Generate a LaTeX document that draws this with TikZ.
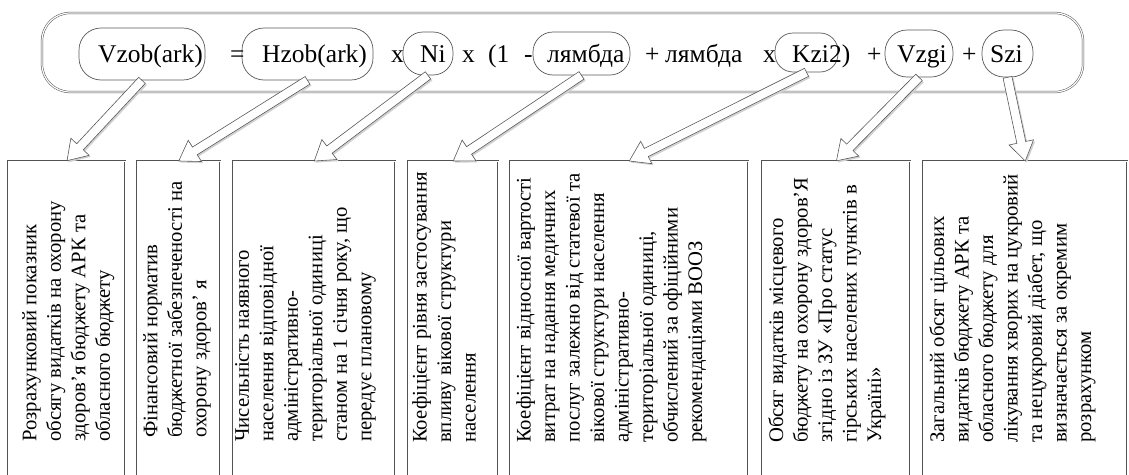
\documentclass[tikz,border=0pt]{standalone}
\usepackage{fontspec}
\setmainfont{Liberation Serif}
\usetikzlibrary{calc}
\tikzset{
  frame/.style={draw=gray!65!black, line width=0.5pt, double=white, double distance=1.2pt, fill=white},
  term/.style={draw=gray!70!black, line width=0.7pt, inner sep=0pt},
  tok/.style={anchor=base west, inner sep=0pt, font=\fontsize{25.5}{30}\selectfont},
  descbox/.style={draw=gray!65!black, line width=0.5pt, double=white, double distance=1.2pt, fill=white, anchor=north west, minimum height=340pt},
  desc/.style={rotate=90, anchor=north west, align=left, inner sep=0pt, font=\fontsize{20.7}{24.5}\selectfont},
  arrshadow/.style={fill=black!18},
  arrbody/.style={fill=white, draw=gray!70!black, line width=0.6pt, line join=miter},
}
\newcommand\arrpoly{(0,-4.5) -- (\n2-19,-4.5) -- (\n2-19,-12.5) -- (\n2,0) -- (\n2-19,12.5) -- (\n2-19,4.5) -- (0,4.5) -- cycle}
\newcommand\blockarr[2]{%
  \path[arrshadow] let \p1=(#1), \p2=(#2), \n1={atan2(\y2-\y1,\x2-\x1)}, \n2={veclen(\x2-\x1,\y2-\y1)} in
    [shift={(\p1)}, xshift=1.6pt, yshift=-1.6pt, rotate=\n1] \arrpoly;
  \path[arrbody] let \p1=(#1), \p2=(#2), \n1={atan2(\y2-\y1,\x2-\x1)}, \n2={veclen(\x2-\x1,\y2-\y1)} in
    [shift={(\p1)}, rotate=\n1] \arrpoly;
}
\begin{document}
\begin{tikzpicture}[x=1pt, y=-1pt]
\useasboundingbox (0,0) rectangle (1129,474);
\fill[white] (0,0) rectangle (1129,474);
\clip (0,0) rectangle (1129,474);

% formula frame
\node[frame, rounded corners=28pt, minimum width=1041pt, minimum height=79pt] (fr) at (562.5,52.5) {};

% term shapes
\node[term, rounded corners=22pt, minimum width=126pt, minimum height=52pt] (e1) at (142,54) {};
\node[term, rounded corners=22pt, minimum width=131pt, minimum height=52pt] (e2) at (307.5,54) {};
\node[term, rounded corners=20pt, minimum width=50pt, minimum height=43pt] (e3) at (428,53.5) {};
\node[term, rounded corners=20pt, minimum width=97pt, minimum height=43pt] (e4) at (581.5,53.5) {};
\node[term, rounded corners=18pt, minimum width=63pt, minimum height=39pt] (e5) at (806.5,52.5) {};
\node[term, rounded corners=22pt, minimum width=68pt, minimum height=47pt] (e6) at (919,53.5) {};
\node[term, rounded corners=22pt, minimum width=51pt, minimum height=47pt] (e7) at (1007.5,53.5) {};

% formula text
\node[tok] (f1) at (98,62) {Vzob(ark)};
\node[tok] (f2) at (230,62) {=};
\node[tok] (f3) at (262,62) {Hzob(ark)};
\node[tok] (f4) at (391,62) {x};
\node[tok] (f5) at (420,62) {Ni};
\node[tok] (f6) at (462,62) {x};
\node[tok] (f7) at (488,62) {(1};
\node[tok] (f8) at (524,62) {-};
\node[tok] (f9) at (547,62) {лямбда};
\node[tok] (f10) at (645,62) {+};
\node[tok] (f11) at (665,62) {лямбда};
\node[tok] (f12) at (763,62) {x};
\node[tok] (f13) at (792,62) {Kzi2)};
\node[tok] (f14) at (867,62) {+};
\node[tok] (f15) at (897,62) {Vzgi};
\node[tok] (f16) at (962,62) {+};
\node[tok] (f17) at (990,62) {Szi};

% description boxes
\node[descbox, minimum width=117pt] (b1) at (8,161) {};
\node[descbox, minimum width=83pt] (b2) at (137,161) {};
\node[descbox, minimum width=162pt] (b3) at (233,161) {};
\node[descbox, minimum width=90pt] (b4) at (408,161) {};
\node[descbox, minimum width=238pt] (b5) at (510,161) {};
\node[descbox, minimum width=148pt] (b6) at (762,161) {};
\node[descbox, minimum width=204pt] (b7) at (923,161) {};

\node[desc] (t1) at (22,442) {Розрахунковий показник\\обсягу видатків на охорону\\здоров'я бюджету АРК та\\обласного бюджету};
\node[desc] (t2) at (143,438) {Фінансовий норматив\\бюджетної забезпеченості на\\охорону здоров' я};
\node[desc] (t3) at (235,442) {Чисельність наявного\\населення відповідної\\адміністративно-\\територіальної одиниці\\станом на 1 січня року, що\\передує плановому};
\node[desc] (t4) at (412,443) {Коефіцієнт рівня застосування\\впливу вікової структури\\населення};
\node[desc] (t5) at (516,443) {Коефіцієнт відносної вартості\\витрат на надання медичних\\послуг залежно від статевої та\\вікової структури населення\\адміністративно-\\територіальної одиниці,\\обчислений за офіційними\\рекомендаціями ВООЗ};
\node[desc] (t6) at (768,443) {Обсяг видатків місцевого\\бюджету на охорону здоров'Я\\згідно із ЗУ «Про статус\\гірських населених пунктів в\\Україні»};
\node[desc] (t7) at (929,443) {Загальний обсяг цільових\\видатків бюджету АРК та\\обласного бюджету для\\лікування хворих на цукровий\\та нецукровий діабет, що\\визначається за окремим\\розрахунком};

% block arrows
\blockarr{e1.south}{b1.north}
\blockarr{e2.south}{b2.north}
\blockarr{e3.south}{b3.north}
\blockarr{e4.south}{b4.north}
\blockarr{e5.south}{b5.north}
\blockarr{e6.south}{b6.north}
\blockarr{e7.south}{b7.north}
\end{tikzpicture}
\end{document}
